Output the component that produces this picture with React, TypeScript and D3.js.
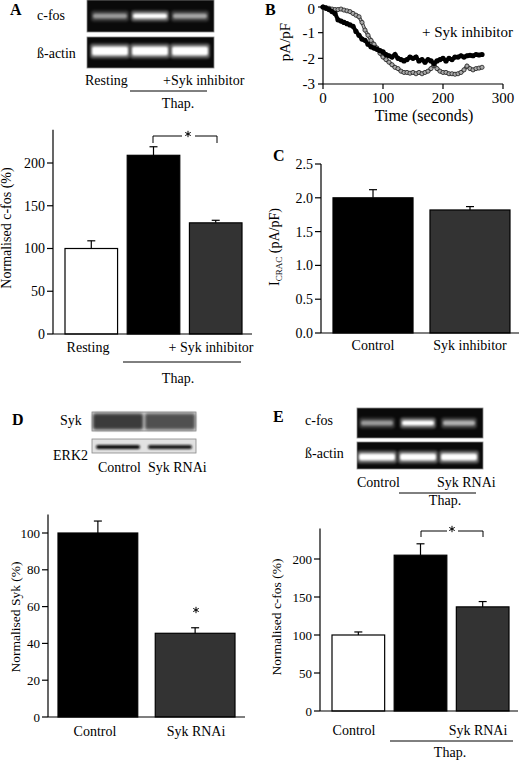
import React from 'react';
import * as d3 from 'd3';

const FONT = "'Liberation Serif', 'Times New Roman', Times, serif";

// ---------- Panel A ----------
const catsA = ['Resting', 'Thap.', 'Thap. + Syk inhibitor'];
const valuesA = [100, 209, 130];
const errorsA = [9, 10, 3];
const ticksA = [0, 50, 100, 150, 200];
const gelCfosA = [0.5, 1, 0.55];
const gelActinA = [1, 1, 1];

// ---------- Panel B ----------
const timesB = [0, 5, 10, 15, 20, 25, 30, 35, 40, 45, 50, 55, 60, 65, 70, 75, 80, 85, 90, 95, 100, 105, 110, 115, 120, 125, 130, 135, 140, 145, 150, 155, 160, 165, 170, 175, 180, 185, 190, 195, 200, 205, 210, 215, 220, 225, 230, 235, 240, 245, 250, 255, 260, 265];
const controlB = [0, -0.02, -0.05, -0.08, -0.1, -0.1, -0.08, -0.12, -0.15, -0.18, -0.25, -0.32, -0.38, -0.6, -0.9, -1.1, -1.3, -1.45, -1.6, -1.8, -1.95, -2.05, -2.15, -2.25, -2.35, -2.4, -2.5, -2.55, -2.55, -2.58, -2.55, -2.6, -2.55, -2.6, -2.55, -2.5, -2.4, -2.25, -2.4, -2.5, -2.55, -2.55, -2.6, -2.6, -2.62, -2.6, -2.55, -2.45, -2.3, -2.4, -2.45, -2.4, -2.38, -2.35];
const sykB = [0, -0.05, -0.1, -0.18, -0.25, -0.5, -0.55, -0.6, -0.65, -0.7, -0.75, -0.95, -1.1, -1.25, -1.3, -1.45, -1.55, -1.6, -1.65, -1.7, -1.75, -1.85, -1.9, -1.95, -1.85, -2.0, -2.05, -2.1, -2.05, -1.95, -2.0, -1.95, -2.1, -2.05, -2.15, -2.05, -2.1, -2.2, -2.1, -2.05, -2.0, -2.1, -2.0, -2.05, -1.95, -1.95, -1.9, -1.95, -1.9, -1.88, -1.9, -1.85, -1.87, -1.85];
const xTicksB = [0, 100, 200, 300];
const yTicksB = [0, -1, -2, -3];

// ---------- Panel C ----------
const catsC = ['Control', 'Syk inhibitor'];
const valuesC = [2.0, 1.82];
const errorsC = [0.12, 0.05];
const ticksC = [0, 0.5, 1.0, 1.5, 2.0, 2.5];

// ---------- Panel D ----------
const catsD = ['Control', 'Syk RNAi'];
const valuesD = [100, 45.5];
const errorsD = [6.5, 3];
const ticksD = [0, 20, 40, 60, 80, 100];
const gelSykD = [1, 0.85];
const gelErkD = [1, 0.95];

// ---------- Panel E ----------
const catsE = ['Control', 'Thap.', 'Thap. + Syk RNAi'];
const valuesE = [100, 205, 137];
const errorsE = [4, 15, 7];
const ticksE = [0, 50, 100, 150, 200];
const gelCfosE = [0.5, 1, 0.6];
const gelActinE = [1, 1, 1];

const BLACK = '#000000';
const GRAY = '#333333';
const WHITE = '#ffffff';

const starPath = d3.symbol(d3.symbolAsterisk, 28)() || '';

function Star({ x, y }: { x: number; y: number }) {
  return <path d={starPath} transform={`translate(${x},${y})`} fill="none" stroke="#000" strokeWidth={1} />;
}

type BarProps = {
  axisX: number; axisEnd: number; y0: number; yRef: number; refVal: number; topVal: number;
  ticks: number[]; fmt: (v: number) => string; bandRange: [number, number]; pad: number;
  values: number[]; errors: number[]; fills: string[]; fontSize: number;
};

function BarChart(p: BarProps) {
  const y = d3.scaleLinear().domain([0, p.refVal]).range([p.y0, p.yRef]);
  const idx = p.values.map((_, i) => String(i));
  const x = d3.scaleBand().domain(idx).range(p.bandRange).paddingInner(p.pad).paddingOuter(0);
  const bw = x.bandwidth();
  return (
    <g>
      {p.values.map((v, i) => (
        <rect key={'b' + i} x={x(String(i))} y={y(v)} width={bw} height={y(0) - y(v)}
          fill={p.fills[i]} stroke="#000" strokeWidth={1.2} />
      ))}
      {p.values.map((v, i) => {
        const cx = (x(String(i)) as number) + bw / 2;
        return (
          <g key={'e' + i} stroke="#000" strokeWidth={1.2}>
            <line x1={cx} x2={cx} y1={y(v)} y2={y(v + p.errors[i])} />
            <line x1={cx - 4} x2={cx + 4} y1={y(v + p.errors[i])} y2={y(v + p.errors[i])} />
          </g>
        );
      })}
      <line x1={p.axisX} x2={p.axisX} y1={y(0)} y2={y(p.topVal)} stroke="#000" strokeWidth={1.2} />
      <line x1={p.axisX} x2={p.axisEnd} y1={y(0)} y2={y(0)} stroke="#000" strokeWidth={1.2} />
      {p.ticks.map((t) => (
        <g key={'t' + t}>
          <line x1={p.axisX - 6} x2={p.axisX} y1={y(t)} y2={y(t)} stroke="#000" strokeWidth={1.2} />
          <text x={p.axisX - 8} y={y(t)} dy="0.35em" textAnchor="end" fontSize={p.fontSize}>{p.fmt(t)}</text>
        </g>
      ))}
    </g>
  );
}

type GelProps = { x: number; y: number; w: number; h: number; lanes: number[]; laneW: number; bandY: number; bandH: number; intens: number[]; bg: string; band: string; blur: string; glow?: boolean };

function Gel(g: GelProps) {
  return (
    <g>
      <rect x={g.x} y={g.y} width={g.w} height={g.h} fill={g.bg} stroke="#888" strokeWidth={0.8} />
      {g.intens.map((v, i) => (
        <g key={i} filter={`url(#${g.blur})`}>
          {g.glow && (
            <rect x={g.lanes[i] - g.laneW / 2 - 2} y={g.bandY - g.bandH / 2 - 3} width={g.laneW + 4} height={g.bandH + 6}
              fill={g.band} opacity={v * 0.35} rx={3} />
          )}
          <rect x={g.lanes[i] - g.laneW / 2} y={g.bandY - g.bandH / 2} width={g.laneW} height={g.bandH}
            fill={g.band} opacity={v} rx={2} />
        </g>
      ))}
    </g>
  );
}

function PanelB() {
  const x = d3.scaleLinear().domain([0, 300]).range([323, 503]);
  const y = d3.scaleLinear().domain([-3, 0]).range([84, 7]);
  const line = d3.line<number>().x((_, i) => x(timesB[i])).y((d) => y(d));
  return (
    <g>
      <path d={line(controlB) || ''} fill="none" stroke="#333" strokeWidth={3.4} />
      <path d={line(controlB) || ''} fill="none" stroke="#bbb" strokeWidth={1.6} />
      {controlB.map((v, i) => (
        <circle key={'c' + i} cx={x(timesB[i])} cy={y(v)} r={2.1} fill="#aaa" stroke="#222" strokeWidth={0.8} />
      ))}
      <path d={line(sykB) || ''} fill="none" stroke="#000" strokeWidth={4} />
      {sykB.map((v, i) => (
        <circle key={'s' + i} cx={x(timesB[i])} cy={y(v)} r={2.6} fill="#000" />
      ))}
      <line x1={x(0)} x2={x(0)} y1={y(-3)} y2={y(0)} stroke="#000" strokeWidth={1.2} />
      <line x1={x(0)} x2={x(300)} y1={y(-3)} y2={y(-3)} stroke="#000" strokeWidth={1.2} />
      {yTicksB.map((t) => (
        <g key={'y' + t}>
          <line x1={x(0) - 5} x2={x(0)} y1={y(t)} y2={y(t)} stroke="#000" strokeWidth={1.2} />
          <text x={x(0) - 8} y={y(t)} dy={t === 0 ? '0.45em' : '0.35em'} textAnchor="end" fontSize={15}>{String(t)}</text>
        </g>
      ))}
      {xTicksB.map((t) => (
        <g key={'x' + t}>
          <line x1={x(t)} x2={x(t)} y1={y(-3)} y2={y(-3) + 5} stroke="#000" strokeWidth={1.2} />
          <text x={x(t)} y={103} textAnchor="middle" fontSize={15}>{String(t)}</text>
        </g>
      ))}
      <text x={424} y={121} textAnchor="middle" fontSize={16}>Time (seconds)</text>
      <text transform="translate(290,42) rotate(-90)" textAnchor="middle" fontSize={15}>pA/pF</text>
      <text x={422} y={37} fontSize={15}>+ Syk inhibitor</text>
    </g>
  );
}

export default function App() {
  return (
    <svg width={520} height={760} style={{ position: 'absolute', left: 0, top: 0, background: '#fff' }}
      fontFamily={FONT} fill="#000">
      <defs>
        <filter id="blur1" x="-20%" y="-50%" width="140%" height="200%"><feGaussianBlur stdDeviation="1.3" /></filter>
        <filter id="blur2" x="-20%" y="-50%" width="140%" height="200%"><feGaussianBlur stdDeviation="1.8" /></filter>
      </defs>
      <rect x={0} y={0} width={520} height={760} fill="#fff" />

      {/* ---------- A ---------- */}
      <text x={10} y={15} fontSize={16} fontWeight="bold">A</text>
      <text x={37} y={20} fontSize={14}>c-fos</text>
      <text x={37} y={58} fontSize={14}>ß-actin</text>
      <Gel x={87} y={0} w={127} h={32} lanes={[110, 150, 190]} laneW={34} bandY={16} bandH={5}
        intens={gelCfosA} bg="#0a0a0a" band="#ffffff" blur="blur1" glow />
      <Gel x={87} y={37} w={127} h={31} lanes={[110, 150, 190]} laneW={36} bandY={51} bandH={9}
        intens={gelActinA} bg="#0a0a0a" band="#ffffff" blur="blur1" glow />
      <text x={85} y={85} fontSize={14}>Resting</text>
      <text x={163} y={85} fontSize={14}>+Syk inhibitor</text>
      <line x1={130} x2={207} y1={91} y2={91} stroke="#000" strokeWidth={1} />
      <text x={178} y={108} fontSize={14} textAnchor="middle">Thap.</text>

      <BarChart axisX={53} axisEnd={252} y0={334} yRef={163} refVal={200} topVal={239}
        ticks={ticksA} fmt={(v) => String(v)} bandRange={[65, 242]} pad={0.155}
        values={valuesA} errors={errorsA} fills={[WHITE, BLACK, GRAY]} fontSize={14} />
      <path d="M153,143 V136 H182 M195,136 H217 V143" fill="none" stroke="#000" strokeWidth={1} />
      <Star x={188} y={134} />
      <text x={88} y={352} fontSize={14} textAnchor="middle">{catsA[0]}</text>
      <text x={211} y={352} fontSize={14} textAnchor="middle">+ Syk inhibitor</text>
      <line x1={123} x2={241} y1={362} y2={362} stroke="#000" strokeWidth={1} />
      <text x={178} y={383} fontSize={14} textAnchor="middle">Thap.</text>
      <text transform="translate(11,228) rotate(-90)" textAnchor="middle" fontSize={14}>Normalised c-fos (%)</text>

      {/* ---------- B ---------- */}
      <text x={265} y={15} fontSize={16} fontWeight="bold">B</text>
      <PanelB />

      {/* ---------- C ---------- */}
      <text x={273} y={161} fontSize={16} fontWeight="bold">C</text>
      <BarChart axisX={321} axisEnd={519} y0={333} yRef={164} refVal={2.5} topVal={2.5}
        ticks={ticksC} fmt={(v) => v.toFixed(1)} bandRange={[333, 510]} pad={0.175}
        values={valuesC} errors={errorsC} fills={[BLACK, GRAY]} fontSize={14} />
      <text x={373} y={350} fontSize={14} textAnchor="middle">{catsC[0]}</text>
      <text x={470} y={350} fontSize={14} textAnchor="middle">{catsC[1]}</text>
      <text transform="translate(279,247) rotate(-90)" textAnchor="middle" fontSize={14}>
        I<tspan fontSize={9} dy={3}>CRAC</tspan><tspan dy={-3}> (pA/pF)</tspan>
      </text>

      {/* ---------- D ---------- */}
      <text x={12} y={425} fontSize={16} fontWeight="bold">D</text>
      <text x={60} y={425} fontSize={14}>Syk</text>
      <text x={53} y={460} fontSize={14}>ERK2</text>
      <Gel x={92} y={412} w={104} h={19} lanes={[118, 170]} laneW={50} bandY={421.5} bandH={16}
        intens={gelSykD} bg="#d4d4d4" band="#3a3a3a" blur="blur2" />
      <Gel x={92} y={439} w={104} h={14} lanes={[118, 170]} laneW={44} bandY={447} bandH={4}
        intens={gelErkD} bg="#e2e2e2" band="#111111" blur="blur1" />
      <text x={98} y={472} fontSize={14}>Control</text>
      <text x={148} y={472} fontSize={14}>Syk RNAi</text>
      <BarChart axisX={48} axisEnd={245} y0={717} yRef={533} refVal={100} topVal={110}
        ticks={ticksD} fmt={(v) => String(v)} bandRange={[58, 235]} pad={0.18}
        values={valuesD} errors={errorsD} fills={[BLACK, GRAY]} fontSize={13} />
      <Star x={196} y={610} />
      <text x={95} y={736} fontSize={14} textAnchor="middle">{catsD[0]}</text>
      <text x={196} y={736} fontSize={14} textAnchor="middle">{catsD[1]}</text>
      <text transform="translate(20,617) rotate(-90)" textAnchor="middle" fontSize={13.5}>Normalised Syk  (%)</text>

      {/* ---------- E ---------- */}
      <text x={273} y={422} fontSize={16} fontWeight="bold">E</text>
      <text x={305} y={425} fontSize={14}>c-fos</text>
      <text x={305} y={458} fontSize={14}>ß-actin</text>
      <Gel x={357} y={408} w={126} h={30} lanes={[377, 418, 459]} laneW={32} bandY={423} bandH={5}
        intens={gelCfosE} bg="#0a0a0a" band="#ffffff" blur="blur1" glow />
      <Gel x={357} y={442} w={126} h={27} lanes={[377, 418, 459]} laneW={36} bandY={457} bandH={7}
        intens={gelActinE} bg="#0a0a0a" band="#ffffff" blur="blur1" glow />
      <text x={357} y={487} fontSize={14}>Control</text>
      <text x={437} y={487} fontSize={14}>Syk RNAi</text>
      <line x1={399} x2={476} y1={493} y2={493} stroke="#000" strokeWidth={1} />
      <text x={445} y={505} fontSize={14} textAnchor="middle">Thap.</text>
      <BarChart axisX={320} axisEnd={518} y0={711} yRef={559} refVal={200} topVal={240}
        ticks={ticksE} fmt={(v) => String(v)} bandRange={[332, 509]} pad={0.153}
        values={valuesE} errors={errorsE} fills={[WHITE, BLACK, GRAY]} fontSize={13} />
      <path d="M421,537 V531 H447 M458,531 H483 V537" fill="none" stroke="#000" strokeWidth={1} />
      <Star x={452} y={529} />
      <text x={354} y={735} fontSize={14} textAnchor="middle">{catsE[0]}</text>
      <text x={478} y={735} fontSize={14} textAnchor="middle">Syk RNAi</text>
      <line x1={390} x2={513} y1={741} y2={741} stroke="#000" strokeWidth={1} />
      <text x={450} y={757} fontSize={14} textAnchor="middle">Thap.</text>
      <text transform="translate(281,617) rotate(-90)" textAnchor="middle" fontSize={13.5}>Normalised c-fos (%)</text>
    </svg>
  );
}
